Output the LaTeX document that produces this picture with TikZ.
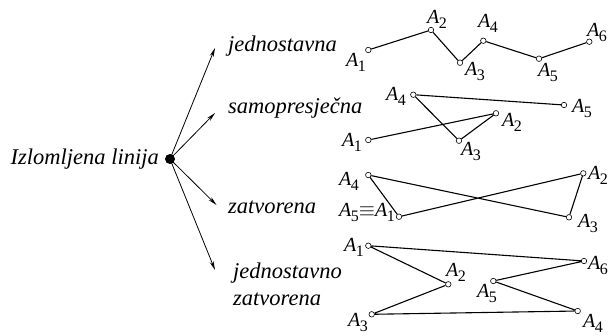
\documentclass[tikz,border=0pt]{standalone}
\usepackage{fontspec}
\setmainfont{Liberation Serif}
\usetikzlibrary{arrows.meta}
\newcommand\An[1]{\textit{A}\kern-0.5pt\raisebox{-5pt}{\fontsize{16}{16}\selectfont #1}}
\tikzset{
  pt/.style={circle,draw,fill=white,inner sep=0pt,minimum size=5.5pt,line width=0.6pt},
  lab/.style={inner sep=0pt,font=\fontsize{20}{20}\selectfont},
  cat/.style={inner sep=0pt,anchor=base west,font=\fontsize{22.5}{26}\selectfont\itshape},
  edge/.style={line width=1.1pt},
  arr/.style={line width=0.8pt,-{Stealth[length=9pt,width=4pt]}}
}
\begin{document}
\begin{tikzpicture}[x=1pt,y=-1pt]
\useasboundingbox (0,0) rectangle (608,335);
% root
\node[cat,anchor=base east] (root) at (159,164) {Izlomljena linija};
\node[circle,fill,inner sep=0pt,minimum size=10pt] (dot) at (170,159) {};
\coordinate (t1) at (215,48);
\coordinate (t2) at (215,113);
\coordinate (t3) at (216.5,205);
\coordinate (t4) at (215,270);
\draw[arr] (dot.center) -- (t1);
\draw[arr] (dot.center) -- (t2);
\draw[arr] (dot.center) -- (t3);
\draw[arr] (dot.center) -- (t4);
\node[cat] (c1) at (228,51) {jednostavna};
\node[cat] (c2) at (228,113) {samopresječna};
\node[cat] (c3) at (228,213) {zatvorena};
\node[cat] (c4) at (233,278) {jednostavno};
\node[cat] (c5) at (233,305) {zatvorena};
% polyline 1
\node[pt] (p11) at (368.3,50) {};
\node[pt] (p12) at (431,30) {};
\node[pt] (p13) at (460,62.7) {};
\node[pt] (p14) at (483.3,40.7) {};
\node[pt] (p15) at (539,58.7) {};
\node[pt] (p16) at (589.3,41.7) {};
\draw[edge] (p11) -- (p12) -- (p13) -- (p14) -- (p15) -- (p16);
\node[lab] (l11) at (356,62) {\An{1}};
\node[lab] (l12) at (437,19) {\An{2}};
\node[lab] (l13) at (475,71) {\An{3}};
\node[lab] (l14) at (488,23) {\An{4}};
\node[lab] (l15) at (548,72) {\An{5}};
\node[lab] (l16) at (597,32) {\An{6}};
% polyline 2
\node[pt] (p21) at (368.3,140) {};
\node[pt] (p22) at (496,113.3) {};
\node[pt] (p23) at (459,140.7) {};
\node[pt] (p24) at (413.3,94.7) {};
\node[pt] (p25) at (564,105) {};
\draw[edge] (p21) -- (p22) -- (p23) -- (p24) -- (p25);
\node[lab] (l21) at (352,142) {\An{1}};
\node[lab] (l22) at (512,122) {\An{2}};
\node[lab] (l23) at (471,151) {\An{3}};
\node[lab] (l24) at (396,96) {\An{4}};
\node[lab] (l25) at (582,108) {\An{5}};
% polyline 3
\node[pt] (p31) at (399,216.7) {};
\node[pt] (p32) at (583.3,173.3) {};
\node[pt] (p33) at (569,217.3) {};
\node[pt] (p34) at (368.3,175) {};
\draw[edge] (p31) -- (p32) -- (p33) -- (p34) -- (p31);
\node[lab,anchor=east] (l31) at (395,212) {\An{5}$\equiv$\An{1}};
\node[lab] (l32) at (598,175) {\An{2}};
\node[lab] (l33) at (588,223) {\An{3}};
\node[lab] (l34) at (349,181) {\An{4}};
% polyline 4
\node[pt] (p41) at (368.3,245.7) {};
\node[pt] (p42) at (448.3,284.3) {};
\node[pt] (p43) at (371.7,314.3) {};
\node[pt] (p44) at (577.7,311) {};
\node[pt] (p45) at (493.3,281) {};
\node[pt] (p46) at (584,261) {};
\draw[edge] (p41) -- (p42) -- (p43) -- (p44) -- (p45) -- (p46) -- (p41);
\node[lab] (l41) at (354,247) {\An{1}};
\node[lab] (l42) at (456,272) {\An{2}};
\node[lab] (l43) at (358,322.5) {\An{3}};
\node[lab] (l44) at (593,323) {\An{4}};
\node[lab] (l45) at (487,293) {\An{5}};
\node[lab] (l46) at (598,265) {\An{6}};
\end{tikzpicture}
\end{document}
